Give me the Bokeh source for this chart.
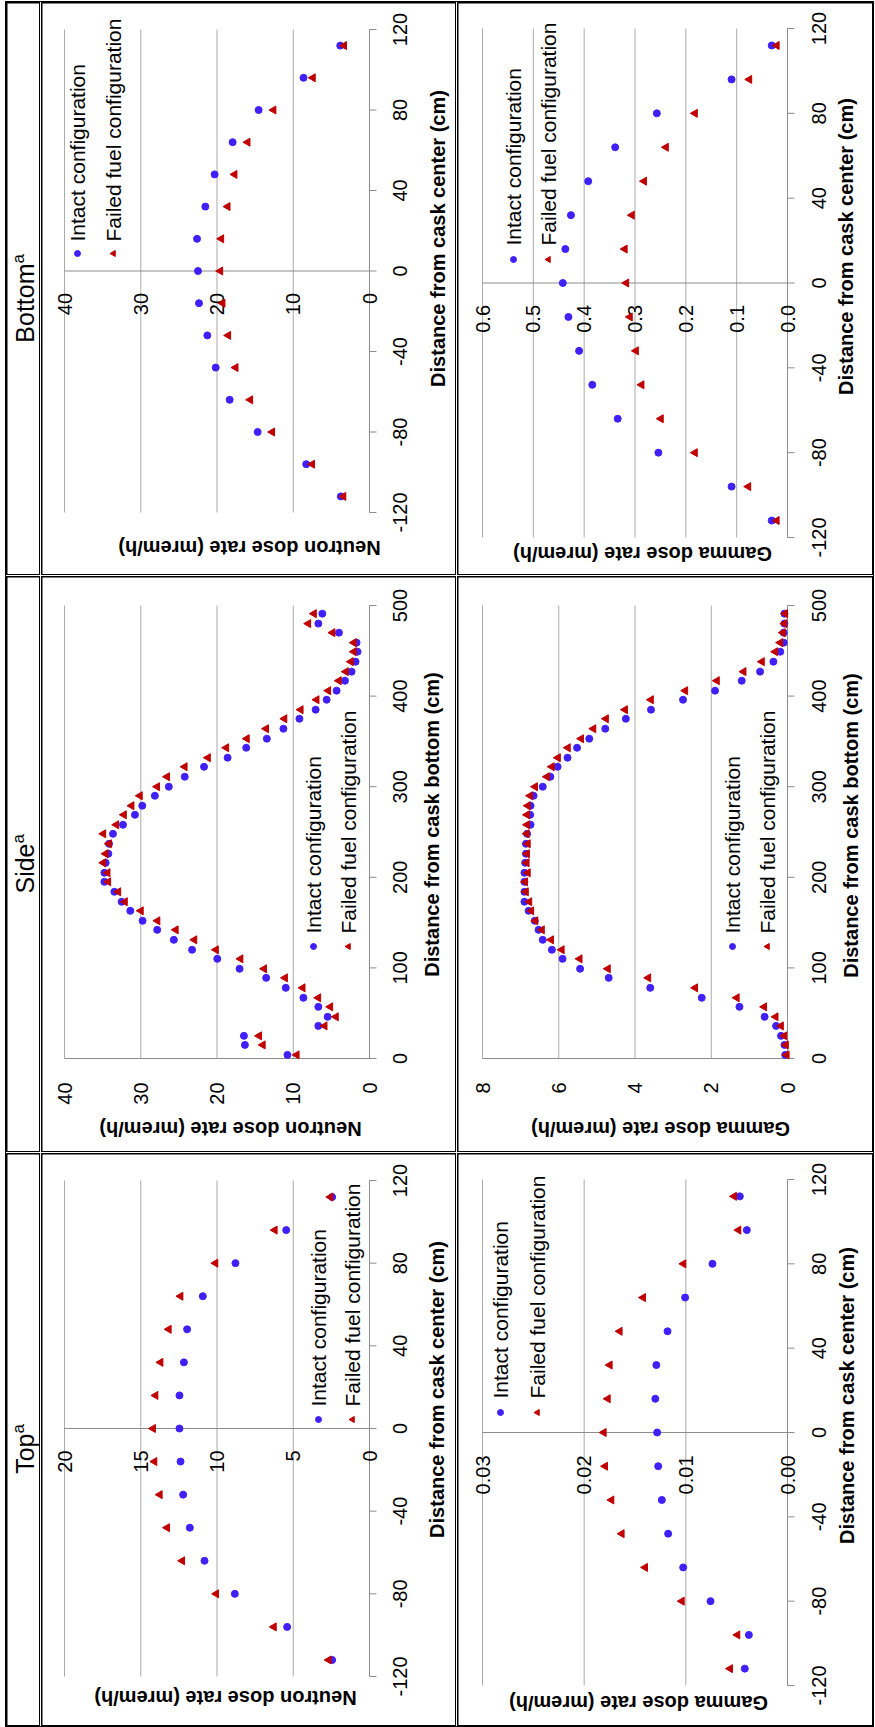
import math
from bokeh.plotting import figure
from bokeh.models import Range1d, Spacer
from bokeh.layouts import row, column
from bokeh.core.properties import value
from bokeh.embed import file_html
from bokeh.resources import INLINE

FONT = "Liberation Sans"
BLUE = "#4020F8"
RED = "#C00000"
GRID = "#ABABAB"
AXIS = "#8C8C8C"

# ---------------- data ----------------
centre_z = [-112, -96, -80, -64, -48, -32, -16, 0, 16, 32, 48, 64, 80, 96, 112]

top_neutron_intact = [2.45, 5.40, 8.83, 10.82, 11.78, 12.22, 12.39, 12.46, 12.46, 12.17, 11.96, 10.93, 8.79, 5.46, 2.45]
top_neutron_failed = [2.67, 6.27, 10.05, 12.28, 13.27, 13.75, 14.10, 14.19, 14.03, 13.70, 13.16, 12.39, 10.10, 6.21, 2.56]
top_gamma_intact = [0.0042, 0.0038, 0.00757, 0.01026, 0.01174, 0.01236, 0.01272, 0.01282, 0.0130, 0.0129, 0.0118, 0.01007, 0.00738, 0.0040, 0.00469]
top_gamma_failed = [0.00564, 0.00492, 0.01039, 0.0140, 0.0163, 0.01731, 0.01793, 0.01807, 0.01767, 0.01748, 0.0165, 0.0142, 0.01023, 0.00482, 0.00525]

bottom_neutron_intact = [3.76, 8.30, 14.67, 18.34, 20.17, 21.27, 22.36, 22.49, 22.62, 21.53, 20.31, 17.95, 14.54, 8.65, 3.84]
bottom_neutron_failed = [3.41, 7.51, 12.75, 15.63, 17.55, 18.52, 19.26, 19.56, 19.43, 18.60, 17.69, 15.98, 12.58, 7.42, 3.32]
bottom_gamma_intact = [0.031, 0.110, 0.254, 0.334, 0.384, 0.410, 0.431, 0.442, 0.437, 0.426, 0.392, 0.339, 0.257, 0.110, 0.031]
bottom_gamma_failed = [0.021, 0.077, 0.182, 0.249, 0.287, 0.298, 0.310, 0.317, 0.320, 0.306, 0.282, 0.239, 0.182, 0.075, 0.021]

side_z = [4, 15, 25, 36, 46, 57, 67, 78, 89, 99, 110, 120, 131, 142, 152, 163, 173, 184, 195, 205,
          216, 226, 237, 248, 258, 269, 279, 290, 300, 311, 322, 332, 343, 353, 364, 375, 385, 396,
          406, 417, 427, 438, 449, 459, 470, 480, 491]
side_neutron_intact = [10.76, 16.34, 16.47, 6.71, 5.49, 6.71, 8.67, 10.98, 13.55, 17.04, 19.96, 23.27,
                       25.66, 27.84, 29.76, 31.37, 32.51, 33.46, 34.77, 34.77, 34.60, 34.25, 34.16, 33.64,
                       32.33, 30.76, 29.80, 28.15, 26.32, 24.23, 21.70, 18.61, 16.17, 13.46, 11.29, 9.19,
                       7.06, 5.62, 4.31, 3.22, 2.35, 1.83, 1.57, 1.70, 4.01, 6.71, 6.19]
side_neutron_failed = [9.54, 13.99, 14.47, 5.88, 4.40, 5.14, 6.71, 8.76, 11.07, 13.81, 16.91, 20.13,
                       22.96, 25.40, 27.80, 29.98, 32.07, 32.94, 34.25, 34.34, 34.90, 34.60, 34.16, 34.90,
                       33.20, 32.20, 31.20, 30.11, 27.84, 26.54, 24.23, 21.18, 18.78, 16.08, 13.55, 11.15,
                       9.02, 6.93, 5.40, 4.01, 3.09, 2.44, 2.05, 2.05, 4.84, 8.02, 7.28]
side_gamma_intact = [0.06, 0.08, 0.17, 0.30, 0.60, 1.26, 2.25, 3.60, 4.69, 5.44, 5.90, 6.18, 6.42, 6.53,
                     6.63, 6.79, 6.90, 6.90, 6.90, 6.90, 6.88, 6.86, 6.86, 6.83, 6.74, 6.75, 6.74, 6.66,
                     6.42, 6.22, 6.03, 5.77, 5.52, 5.20, 4.78, 4.24, 3.58, 2.74, 1.90, 1.20, 0.72, 0.37,
                     0.19, 0.10, 0.10, 0.08, 0.08]
side_gamma_failed = [0.02, 0.04, 0.08, 0.17, 0.31, 0.61, 1.33, 2.42, 3.65, 4.71, 5.45, 5.92, 6.20, 6.44,
                     6.61, 6.72, 6.77, 6.86, 6.88, 6.81, 6.84, 6.83, 6.81, 6.84, 6.83, 6.83, 6.81, 6.75,
                     6.62, 6.31, 6.18, 6.02, 5.76, 5.41, 5.09, 4.76, 4.26, 3.58, 2.68, 1.85, 1.15, 0.67,
                     0.32, 0.19, 0.12, 0.08, 0.06]

centre_ticks = [-120, -80, -40, 0, 40, 80, 120]
centre_tick_labels = ["-120", "-80", "-40", "0", "40", "80", "120"]
side_ticks = [0, 100, 200, 300, 400, 500]
side_tick_labels = ["0", "100", "200", "300", "400", "500"]

top_n_ticks = [0, 5, 10, 15, 20]
top_n_labels = ["0", "5", "10", "15", "20"]
top_g_ticks = [0, 0.01, 0.02, 0.03]
top_g_labels = ["0.00", "0.01", "0.02", "0.03"]
side_n_ticks = [0, 10, 20, 30, 40]
side_n_labels = ["0", "10", "20", "30", "40"]
side_g_ticks = [0, 2, 4, 6, 8]
side_g_labels = ["0", "2", "4", "6", "8"]
bot_n_ticks = [0, 10, 20, 30, 40]
bot_n_labels = ["0", "10", "20", "30", "40"]
bot_g_ticks = [0, 0.1, 0.2, 0.3, 0.4, 0.5, 0.6]
bot_g_labels = ["0.0", "0.1", "0.2", "0.3", "0.4", "0.5", "0.6"]

headers = ["Bottom", "Side", "Top"]
series_names = ["Intact configuration", "Failed fuel configuration"]
dose_titles = ["Neutron dose rate (mrem/h)", "Gamma dose rate (mrem/h)"]
dist_titles = ["Distance from cask center (cm)", "Distance from cask bottom (cm)"]

# ---------------- layout constants (pixels) ----------------
HW = 32
NW, GW = 413, 414
H1, H2, H3 = 571, 574, 571
NX0, GX0 = 42, 458           # page x of the neutron / gamma cells
RY = [3, 577, 1154]          # page y of the three rows
TICK_FS = "20px"


def make_panel(w, h, x0, y0, bl, bt, fw, fh, xticks, xlabels, yr, yticks, ylabels, z, intact,
               failed, xtitle, ytitle, dose_title_at, dist_title_at, legend_at, tick_gap, lab_dx):
    xmax = xticks[-1]
    ymin, ymax = yr

    def X(px):  # page x pixel -> dose value
        return xmax * (1 - (px - x0 - bl) / fw)

    def Y(py):  # page y pixel -> distance value
        return ymax - (py - y0 - bt) / fh * (ymax - ymin)

    p = figure(width=w, height=h, x_range=Range1d(X(x0), X(x0 + w)),
               y_range=Range1d(Y(y0 + h), Y(y0)),
               output_backend="svg", toolbar_location=None,
               x_axis_location=None, y_axis_location=None, min_border=0)
    p.outline_line_color = None
    p.background_fill_color = "white"
    p.border_fill_color = "white"
    p.grid.visible = False

    ax_px = x0 + bl + fw                                   # page x of the dose-zero axis
    zero_py = y0 + bt + ymax / (ymax - ymin) * fh          # page y of distance zero

    n = len(xticks)
    m = len(yticks)
    p.segment(x0=xticks, y0=[ymin] * n, x1=xticks, y1=[ymax] * n, line_color=GRID, line_width=1)
    p.segment(x0=[xmax], y0=[0], x1=[0], y1=[0], line_color=AXIS, line_width=1)
    p.segment(x0=[0], y0=[ymin], x1=[0], y1=[ymax], line_color=AXIS, line_width=1)
    p.segment(x0=[0] * m, y0=yticks, x1=[X(ax_px + 7)] * m, y1=yticks, line_color=AXIS, line_width=1)
    p.text(x=[X(ax_px + lab_dx)] * m, y=yticks, text=ylabels, angle=math.pi / 2,
           text_align="center", text_baseline="middle",
           text_font=value(FONT), text_font_size=TICK_FS, text_color="black")
    p.text(x=xticks, y=[Y(zero_py + tick_gap)] * n, text=xlabels, angle=math.pi / 2,
           text_align="right", text_baseline="middle",
           text_font=value(FONT), text_font_size=TICK_FS, text_color="black")

    p.text(x=[X(dose_title_at[0])], y=[Y(dose_title_at[1])], text=[xtitle], angle=math.pi,
           text_align="center", text_baseline="middle", text_font=value(FONT),
           text_font_size="20px", text_font_style="bold", text_color="black")
    p.text(x=[X(dist_title_at[0])], y=[Y(dist_title_at[1])], text=[ytitle], angle=math.pi / 2,
           text_align="center", text_baseline="middle", text_font=value(FONT),
           text_font_size="20px", text_font_style="bold", text_color="black")

    p.scatter(x=intact, y=z, marker="circle", size=7, fill_color=BLUE, line_color=BLUE)
    p.scatter(x=failed, y=z, marker="triangle", angle=math.pi / 2, size=8,
              fill_color=RED, line_color=RED)

    lx1, lx2, lym, lyt = legend_at
    p.scatter(x=[X(lx1)], y=[Y(lym)], marker="circle", size=6, fill_color=BLUE, line_color=BLUE)
    p.scatter(x=[X(lx2)], y=[Y(lym)], marker="triangle", angle=math.pi / 2, size=6,
              fill_color=RED, line_color=RED)
    p.text(x=[X(lx1), X(lx2)], y=[Y(lyt), Y(lyt)], text=series_names, angle=math.pi / 2,
           text_align="left", text_baseline="middle", text_font=value(FONT),
           text_font_size="21px", text_color="black")
    return p


def make_header(h, name, junction):
    p = figure(width=HW, height=h, x_range=Range1d(0, HW), y_range=Range1d(h, 0),
               output_backend="svg", toolbar_location=None,
               x_axis_location=None, y_axis_location=None, min_border=0)
    p.outline_line_color = None
    p.background_fill_color = "white"
    p.border_fill_color = "white"
    p.grid.visible = False
    p.text(x=[17], y=[junction], text=[name], angle=math.pi / 2, text_align="right",
           text_baseline="middle", text_font=value(FONT), text_font_size="25px",
           text_color="black")
    p.text(x=[11], y=[junction], text=["a"], angle=math.pi / 2, text_align="left",
           text_baseline="middle", text_font=value(FONT), text_font_size="17px",
           text_color="black")
    return p


def boxed(fig):
    return column(fig, styles={"background-color": "black", "padding": "1px"})


hb = make_header(H1, headers[0], 260)
hs = make_header(H2, headers[1], 266)
ht = make_header(H3, headers[2], 279)

nb = make_panel(NW, H1, NX0, RY[0], 22, 26, 305, 483, bot_n_ticks, bot_n_labels, (-120, 120),
                centre_ticks, centre_tick_labels, centre_z, bottom_neutron_intact,
                bottom_neutron_failed, dose_titles[0], dist_titles[0],
                (249, 547), (437, 238), (77, 113, 253, 241), 22, 30)
gb = make_panel(GW, H1, GX0, RY[0], 24, 25, 305, 509, bot_g_ticks, bot_g_labels, (-120, 120),
                centre_ticks, centre_tick_labels, centre_z, bottom_gamma_intact,
                bottom_gamma_failed, dose_titles[1], dist_titles[0],
                (642, 553), (845, 246), (513, 548, 259, 245), 22, 31)
ns = make_panel(NW, H2, NX0, RY[1], 22, 28, 305, 453, side_n_ticks, side_n_labels, (0, 500),
                side_ticks, side_tick_labels, side_z, side_neutron_intact, side_neutron_failed,
                dose_titles[0], dist_titles[1],
                (230, 1128), (431, 824), (313, 348, 946, 933), 24, 30)
gs = make_panel(GW, H2, GX0, RY[1], 24, 28, 305, 453, side_g_ticks, side_g_labels, (0, 500),
                side_ticks, side_tick_labels, side_z, side_gamma_intact, side_gamma_failed,
                dose_titles[1], dist_titles[1],
                (660, 1128), (850, 825), (732, 767, 946, 933), 24, 31)
nt = make_panel(NW, H3, NX0, RY[2], 22, 26, 305, 496, top_n_ticks, top_n_labels, (-120, 120),
                centre_ticks, centre_tick_labels, centre_z, top_neutron_intact,
                top_neutron_failed, dose_titles[0], dist_titles[0],
                (225, 1697), (436, 1389), (318, 352, 1419, 1406), 22, 30)
gt = make_panel(GW, H3, GX0, RY[2], 24, 25, 305, 506, top_g_ticks, top_g_labels, (-120, 120),
                centre_ticks, centre_tick_labels, centre_z, top_gamma_intact,
                top_gamma_failed, dose_titles[1], dist_titles[0],
                (638, 1702), (846, 1395), (500, 537, 1412, 1398), 23, 31)

inner = column(
    row(boxed(hb), boxed(nb), boxed(gb), spacing=1),
    row(boxed(hs), boxed(ns), boxed(gs), spacing=1),
    row(boxed(ht), boxed(nt), boxed(gt), spacing=1),
    spacing=1,
    styles={"background-color": "white"},
)
table = column(inner, styles={"background-color": "black", "padding": "1px"})

layout = column(Spacer(height=1, width=10), row(Spacer(width=5, height=10), table))

open("out.html", "w").write(file_html(layout, INLINE))
